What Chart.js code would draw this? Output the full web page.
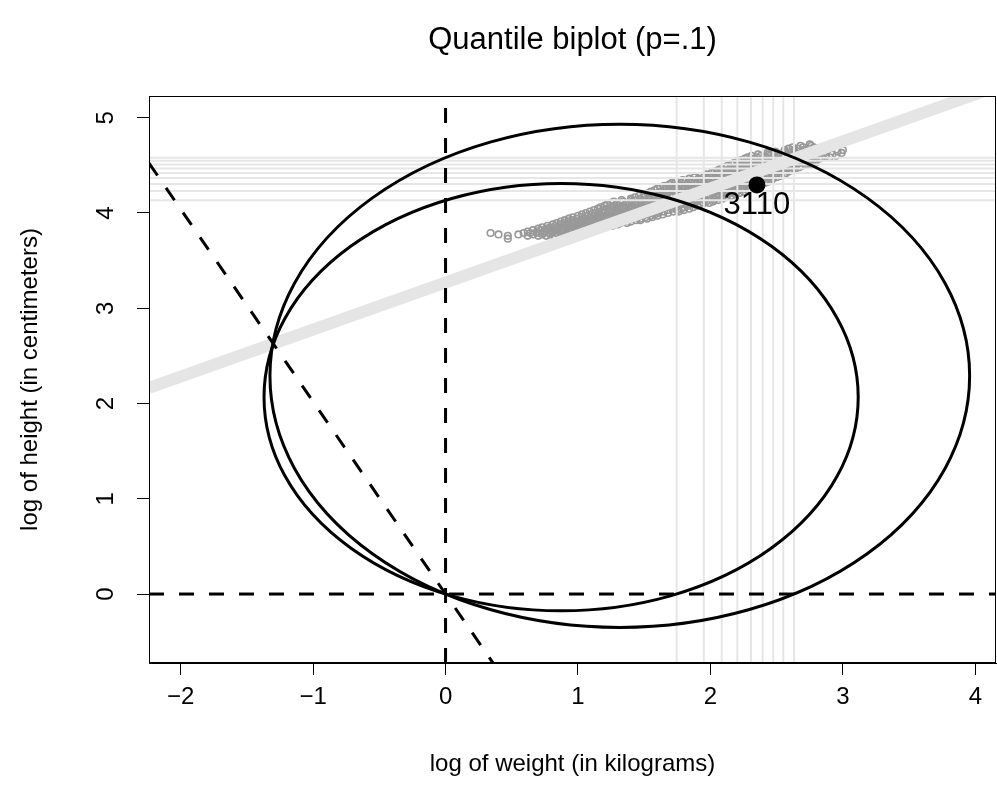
<!DOCTYPE html>
<html>
<head>
<meta charset="utf-8">
<script src="https://cdn.jsdelivr.net/npm/chart.js@4.4.1/dist/chart.umd.min.js"></script>
<style>
  body { margin: 0; background: #fff; }
  canvas { display: block; }
</style>
</head>
<body>
<canvas id="biplot" width="997" height="809"></canvas>
<script>
const xRange = [-2.239, 4.156];
const yRange = [-0.724, 5.228];
const xTicks = [-2, -1, 0, 1, 2, 3, 4];
const yTicks = [0, 1, 2, 3, 4, 5];

// deciles of log weight and log height (p = .1 ... .9)
const weightDeciles = [1.745, 1.950, 2.085, 2.203, 2.306, 2.394, 2.474, 2.550, 2.631];
const heightDeciles = [4.133, 4.232, 4.305, 4.368, 4.421, 4.466, 4.508, 4.547, 4.581];

// observations, one row per log height value
const heightRows = [3.73, 3.76, 3.775, 3.79, 3.805, 3.82, 3.835, 3.85, 3.865, 3.88, 3.895, 3.91, 3.925,
  3.94, 3.955, 3.97, 3.985, 4.00, 4.015, 4.03, 4.045, 4.06, 4.075, 4.09, 4.105, 4.12, 4.135, 4.15,
  4.165, 4.18, 4.195, 4.21, 4.225, 4.24, 4.255, 4.27, 4.285, 4.30, 4.315, 4.33, 4.345, 4.36, 4.375,
  4.39, 4.405, 4.42, 4.435, 4.45, 4.465, 4.48, 4.495, 4.51, 4.525, 4.54, 4.555, 4.57, 4.585, 4.60,
  4.615, 4.63, 4.645, 4.66, 4.675, 4.69, 4.705, 4.72];
const weightRows = [
  [0.47],
  [0.47, 0.62, 0.70, 0.76, 0.82, 0.87],
  [0.40, 0.55, 0.66, 0.73, 0.79, 0.85, 0.91],
  [0.34, 0.59, 0.64, 0.69, 0.74, 0.79, 0.84, 0.89, 0.94, 0.98],
  [0.62, 0.69, 0.75, 0.81, 0.87, 0.93, 0.99, 1.05],
  [0.66, 0.72, 0.78, 0.84, 0.90, 0.96, 1.02, 1.08, 1.13],
  [0.70, 0.76, 0.82, 0.88, 0.94, 1.00, 1.06, 1.12, 1.17],
  [0.73, 0.79, 0.85, 0.91, 0.97, 1.03, 1.09, 1.15, 1.21],
  [0.77, 0.83, 0.89, 0.95, 1.01, 1.07, 1.13, 1.19, 1.26],
  [0.81, 0.87, 0.93, 0.99, 1.05, 1.11, 1.17, 1.23, 1.30],
  [0.84, 0.90, 0.96, 1.02, 1.08, 1.14, 1.20, 1.26, 1.32, 1.37],
  [0.87, 0.93, 0.99, 1.05, 1.11, 1.17, 1.23, 1.29, 1.35, 1.40],
  [0.90, 0.96, 1.02, 1.08, 1.14, 1.20, 1.26, 1.32, 1.38, 1.44, 1.47],
  [0.93, 0.99, 1.05, 1.11, 1.17, 1.23, 1.29, 1.35, 1.41, 1.47, 1.52],
  [0.96, 1.03, 1.09, 1.15, 1.21, 1.27, 1.33, 1.39, 1.45, 1.51, 1.56],
  [1.00, 1.07, 1.13, 1.19, 1.25, 1.31, 1.37, 1.43, 1.49, 1.55, 1.60],
  [1.03, 1.10, 1.16, 1.22, 1.28, 1.34, 1.40, 1.46, 1.52, 1.58, 1.64],
  [1.06, 1.13, 1.19, 1.25, 1.31, 1.37, 1.43, 1.49, 1.55, 1.61, 1.68],
  [1.09, 1.16, 1.23, 1.30, 1.37, 1.44, 1.51, 1.58, 1.65, 1.72, 1.76],
  [1.12, 1.19, 1.26, 1.33, 1.40, 1.47, 1.54, 1.61, 1.68, 1.75, 1.80],
  [1.15, 1.22, 1.29, 1.36, 1.43, 1.50, 1.57, 1.64, 1.71, 1.78, 1.84],
  [1.17, 1.24, 1.31, 1.38, 1.45, 1.52, 1.59, 1.66, 1.73, 1.80, 1.87],
  [1.20, 1.27, 1.34, 1.41, 1.48, 1.55, 1.62, 1.69, 1.76, 1.83, 1.90],
  [1.22, 1.29, 1.36, 1.43, 1.50, 1.57, 1.64, 1.71, 1.78, 1.85, 1.92],
  [1.25, 1.32, 1.39, 1.46, 1.53, 1.60, 1.67, 1.74, 1.81, 1.88, 1.95, 1.99],
  [1.27, 1.34, 1.41, 1.48, 1.55, 1.62, 1.69, 1.76, 1.83, 1.90, 1.97, 2.02],
  [1.33, 1.40, 1.47, 1.54, 1.61, 1.68, 1.75, 1.82, 1.89, 1.96, 2.03, 2.06],
  [1.40, 1.47, 1.54, 1.61, 1.68, 1.75, 1.82, 1.89, 1.96, 2.03, 2.09],
  [1.43, 1.50, 1.57, 1.64, 1.71, 1.78, 1.85, 1.92, 1.99, 2.06, 2.12],
  [1.46, 1.53, 1.60, 1.67, 1.74, 1.81, 1.88, 1.95, 2.02, 2.09, 2.16],
  [1.50, 1.57, 1.64, 1.71, 1.78, 1.85, 1.92, 1.99, 2.06, 2.13, 2.19],
  [1.53, 1.60, 1.67, 1.74, 1.81, 1.88, 1.95, 2.02, 2.09, 2.16, 2.22],
  [1.55, 1.62, 1.69, 1.76, 1.83, 1.90, 1.97, 2.04, 2.11, 2.18, 2.25],
  [1.58, 1.65, 1.72, 1.79, 1.86, 1.93, 2.00, 2.07, 2.14, 2.21, 2.28],
  [1.60, 1.67, 1.74, 1.81, 1.88, 1.95, 2.02, 2.09, 2.16, 2.23, 2.30],
  [1.62, 1.69, 1.76, 1.83, 1.90, 1.97, 2.04, 2.11, 2.18, 2.25, 2.33],
  [1.65, 1.72, 1.79, 1.86, 1.93, 2.00, 2.07, 2.14, 2.21, 2.28, 2.36],
  [1.69, 1.76, 1.83, 1.90, 1.97, 2.04, 2.11, 2.18, 2.25, 2.32, 2.39],
  [1.71, 1.78, 1.85, 1.92, 1.99, 2.06, 2.13, 2.20, 2.27, 2.34, 2.41],
  [1.74, 1.81, 1.88, 1.95, 2.02, 2.09, 2.16, 2.23, 2.30, 2.37, 2.44],
  [1.79, 1.86, 1.93, 2.00, 2.07, 2.14, 2.21, 2.28, 2.35, 2.42, 2.46],
  [1.84, 1.91, 1.98, 2.05, 2.12, 2.19, 2.26, 2.33, 2.40, 2.47],
  [1.88, 1.95, 2.02, 2.09, 2.16, 2.23, 2.30, 2.37, 2.44, 2.50],
  [1.93, 2.00, 2.07, 2.14, 2.21, 2.28, 2.35, 2.42, 2.49, 2.53],
  [1.97, 2.04, 2.11, 2.18, 2.25, 2.32, 2.39, 2.46, 2.53, 2.56],
  [2.01, 2.08, 2.15, 2.22, 2.29, 2.36, 2.43, 2.50, 2.57],
  [2.03, 2.10, 2.17, 2.24, 2.31, 2.38, 2.45, 2.52, 2.59],
  [2.06, 2.13, 2.20, 2.27, 2.34, 2.41, 2.48, 2.55, 2.62],
  [2.08, 2.15, 2.22, 2.29, 2.36, 2.43, 2.50, 2.57, 2.64],
  [2.11, 2.18, 2.25, 2.32, 2.39, 2.46, 2.53, 2.60, 2.67],
  [2.13, 2.20, 2.27, 2.34, 2.41, 2.48, 2.55, 2.62, 2.69],
  [2.16, 2.23, 2.30, 2.37, 2.44, 2.51, 2.58, 2.65, 2.72, 2.76],
  [2.18, 2.25, 2.32, 2.39, 2.46, 2.53, 2.60, 2.67, 2.74, 2.79],
  [2.21, 2.28, 2.35, 2.42, 2.49, 2.56, 2.63, 2.70, 2.77],
  [2.23, 2.30, 2.37, 2.44, 2.51, 2.58, 2.65, 2.72, 2.79],
  [2.26, 2.33, 2.40, 2.47, 2.54, 2.61, 2.68, 2.75, 2.82],
  [2.28, 2.35, 2.42, 2.49, 2.56, 2.63, 2.70, 2.77, 2.84, 2.90],
  [2.31, 2.38, 2.45, 2.52, 2.59, 2.66, 2.73, 2.80, 2.87, 2.95],
  [2.36, 2.44, 2.51, 2.58, 2.65, 2.72, 2.79, 2.85, 2.92],
  [2.43, 2.50, 2.57, 2.64, 2.71, 2.78, 2.86, 2.99],
  [2.49, 2.56, 2.63, 2.70, 2.77, 2.83, 2.96],
  [2.56, 2.63, 2.70, 2.77, 2.84, 3.00],
  [2.59, 2.66, 2.74, 2.81],
  [2.62, 2.70, 2.78],
  [2.68, 2.76],
  [2.75]
];

// fitted direction and its normal through the origin
const fitLine = [[-2.239, 2.164], [4.156, 5.323]];
const normalLine = [[-2.239, 4.523], [0.6, -1.212]];

const marked = { x: 2.351, y: 4.295, label: '3110' };

const font = 'Liberation Sans, Arial, Helvetica, sans-serif';

const bandPoints = heightRows.flatMap((h, i) => weightRows[i].map(w => ({ x: w, y: h })));

// decile reference lines, gaps between segments
const decileLines = [];
weightDeciles.forEach(q => decileLines.push({ x: q, y: yRange[0] }, { x: q, y: yRange[1] }, { x: q, y: null }));
heightDeciles.forEach(q => decileLines.push({ x: xRange[0], y: q }, { x: xRange[1], y: q }, { x: null, y: q }));

const asPoints = arr => arr.map(p => ({ x: p[0], y: p[1] }));

const lineSet = (data, extra) => Object.assign({
  data: data,
  showLine: true,
  pointRadius: 0,
  fill: false,
  clip: 0,
  spanGaps: false
}, extra);

// keep tick labels from shrinking the plot box
const noOverflow = s => {
  s.paddingLeft = s.paddingRight = s.paddingTop = s.paddingBottom = 0;
};

// Thales circles through the origin with the first / last deciles as diameter
const circlesPlugin = {
  id: 'circles',
  afterDatasetsDraw(chart) {
    const { ctx, scales: { x, y } } = chart;
    const ends = [
      [weightDeciles[0], heightDeciles[0]],
      [weightDeciles[8], heightDeciles[8]]
    ];
    ctx.save();
    ctx.strokeStyle = '#000';
    ctx.lineWidth = 3;
    ends.forEach(([qx, qy]) => {
      const cx = qx / 2, cy = qy / 2;
      const r = Math.sqrt(qx * qx + qy * qy) / 2;
      const px = x.getPixelForValue(cx);
      const py = y.getPixelForValue(cy);
      const rx = x.getPixelForValue(cx + r) - px;
      const ry = py - y.getPixelForValue(cy + r);
      ctx.beginPath();
      ctx.ellipse(px, py, rx, ry, 0, 0, Math.PI * 2);
      ctx.stroke();
    });
    // label of the marked case
    ctx.fillStyle = '#000';
    ctx.font = '31px ' + font;
    ctx.textAlign = 'center';
    ctx.textBaseline = 'middle';
    ctx.fillText(marked.label, x.getPixelForValue(marked.x), y.getPixelForValue(marked.y) + 21);
    ctx.restore();
  },
  afterDraw(chart) {
    const { ctx, chartArea: a } = chart;
    ctx.save();
    ctx.strokeStyle = '#000';
    ctx.lineWidth = 1;
    ctx.strokeRect(a.left + 0.5, a.top + 0.5, a.right - a.left - 1, a.bottom - a.top - 1);
    ctx.fillStyle = '#000';
    ctx.font = '31px ' + font;
    ctx.textAlign = 'center';
    ctx.textBaseline = 'middle';
    ctx.fillText('Quantile biplot (p=.1)', (a.left + a.right) / 2, 40);
    ctx.restore();
  }
};

const minus = v => String(v).replace('-', '\u2212');

new Chart(document.getElementById('biplot'), {
  type: 'scatter',
  data: {
    datasets: [
      { data: [{ x: marked.x, y: marked.y }], pointRadius: 8.5, pointBackgroundColor: '#000',
        pointBorderColor: '#000', pointBorderWidth: 0, order: 0 },
      lineSet(asPoints(normalLine), { borderColor: '#000', borderWidth: 3, borderDash: [15, 15], order: 1 }),
      lineSet([{ x: xRange[0], y: 0 }, { x: xRange[1], y: 0 }], { borderColor: '#000', borderWidth: 3, borderDash: [15, 15], order: 1 }),
      lineSet([{ x: 0, y: yRange[0] }, { x: 0, y: yRange[1] }], { borderColor: '#000', borderWidth: 3, borderDash: [15, 15], order: 1 }),
      lineSet(asPoints(fitLine), { borderColor: '#e5e5e5', borderWidth: 12, order: 2 }),
      lineSet(decileLines, { borderColor: '#e6e6e6', borderWidth: 2, order: 3 }),
      { data: bandPoints, pointRadius: 3.3, pointBorderWidth: 1.6, pointBorderColor: '#999999',
        pointBackgroundColor: 'rgba(0,0,0,0)', order: 4 }
    ]
  },
  options: {
    responsive: false,
    animation: false,
    layout: { autoPadding: false, padding: { top: 96, right: 1, left: 0, bottom: 0 } },
    plugins: { legend: { display: false }, tooltip: { enabled: false }, title: { display: false } },
    scales: {
      x: {
        type: 'linear',
        min: xRange[0],
        max: xRange[1],
        afterFit: s => { s.height = 146; noOverflow(s); },
        afterBuildTicks: s => { s.ticks = xTicks.map(v => ({ value: v })); },
        grid: { drawOnChartArea: false, drawTicks: true, tickLength: 12, color: '#000', tickWidth: 1 },
        border: { display: true, color: '#000', width: 1 },
        ticks: { includeBounds: false, padding: 8, color: '#000', font: { family: font, size: 24 }, callback: minus, maxRotation: 0 },
        title: { display: true, text: 'log of weight (in kilograms)', color: '#000',
          font: { family: font, size: 24 }, padding: { top: 0, bottom: 30 } }
      },
      y: {
        type: 'linear',
        min: yRange[0],
        max: yRange[1],
        afterFit: s => { s.width = 149; noOverflow(s); },
        afterBuildTicks: s => { s.ticks = yTicks.map(v => ({ value: v })); },
        grid: { drawOnChartArea: false, drawTicks: true, tickLength: 12, color: '#000', tickWidth: 1 },
        border: { display: true, color: '#000', width: 1 },
        ticks: { includeBounds: false, padding: 24, color: '#000', font: { family: font, size: 24 },
          minRotation: 90, maxRotation: 90, crossAlign: 'center', callback: minus },
        title: { display: true, text: 'log of height (in centimeters)', color: '#000',
          font: { family: font, size: 24 }, padding: { top: 16, bottom: 0 } }
      }
    }
  },
  plugins: [circlesPlugin]
});
</script>
</body>
</html>
